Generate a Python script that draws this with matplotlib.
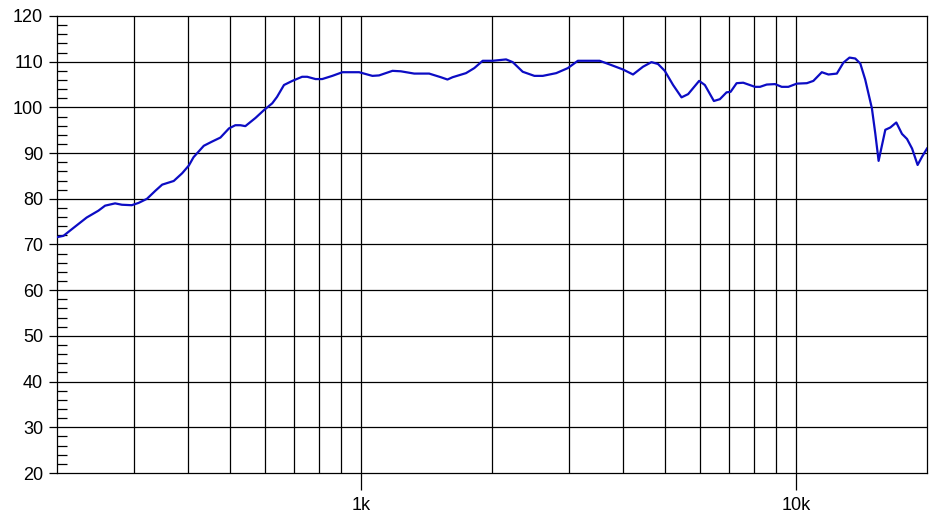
import numpy as np
import matplotlib
matplotlib.use('Agg')
import matplotlib.pyplot as plt
from matplotlib.ticker import FixedLocator, NullFormatter


# frequency response
freq = [200, 207, 216, 234, 249, 258, 272, 282, 297, 308, 322, 337, 349, 371, 388,
        402, 412, 435, 454, 475, 497, 514, 528, 542, 572, 598, 625, 641, 665, 695,
        732, 752, 786, 814, 859, 906, 990, 1034, 1062, 1100, 1181, 1234, 1325, 1434,
        1526, 1580, 1623, 1743, 1821, 1904, 2007, 2155, 2232, 2353, 2503, 2617, 2810,
        2988, 3151, 3535, 3728, 4000, 4219, 4448, 4651, 4816, 4991, 5216, 5454, 5648,
        5987, 6171, 6473, 6682, 6923, 7071, 7301, 7561, 8045, 8263, 8561, 8946, 9269,
        9600, 10040, 10590, 10960, 11460, 11870, 12410, 12850, 13270, 13680, 14050,
        14420, 14940, 15210, 15480, 16040, 16470, 17000, 17520, 17990, 18480, 19030,
        19480, 20000]
spl = [71.6, 71.9, 73.3, 75.9, 77.4, 78.5, 79.0, 78.7, 78.6, 79.1, 80.0, 81.8, 83.1, 83.9, 85.6,
       87.3, 89.1, 91.6, 92.5, 93.4, 95.4, 96.1, 96.1, 95.9, 97.7, 99.4, 100.9, 102.3, 104.9, 105.8,
       106.7, 106.7, 106.2, 106.2, 106.9, 107.7, 107.7, 107.2, 106.9, 107.0, 108.0, 107.9, 107.4, 107.4,
       106.6, 106.1, 106.6, 107.5, 108.6, 110.2, 110.2, 110.5, 109.9, 107.8, 106.9, 106.9, 107.5,
       108.6, 110.2, 110.2, 109.4, 108.3, 107.2, 108.9, 109.9, 109.5, 108.0, 104.9, 102.2, 102.9,
       105.8, 104.9, 101.4, 101.8, 103.3, 103.4, 105.3, 105.4, 104.5, 104.5, 105.0, 105.1, 104.5,
       104.5, 105.2, 105.3, 105.8, 107.7, 107.2, 107.4, 109.8, 110.9, 110.7, 109.6,
       106.1, 99.8, 94.3, 88.3, 95.1, 95.6, 96.7, 94.2, 93.1, 91.0, 87.4,
       89.2, 91.0]

grid_freqs = [300, 400, 500, 600, 700, 800, 900, 1000, 2000, 3000, 4000, 5000,
              6000, 7000, 8000, 9000, 10000]

fig = plt.figure(figsize=(9.48, 5.20), dpi=100)
ax = fig.add_axes([57/948, 1 - 473/520, 870/948, 457/520])

ax.set_xscale('log')
ax.set_xlim(200, 20000)
ax.set_ylim(20, 120)

for f in grid_freqs:
    ax.axvline(f, color='black', lw=0.9, zorder=1)
for v in range(30, 120, 10):
    ax.axhline(v, color='black', lw=0.9, zorder=1)

ax.plot(freq, spl, color='#0c0cc4', lw=1.6, zorder=3)

for s in ax.spines.values():
    s.set_color('black')
    s.set_linewidth(0.9)

# x ticks: only 1k and 10k, long outward ticks
ax.xaxis.set_major_locator(FixedLocator([1000, 10000]))
ax.set_xticklabels(['1k', '10k'])
ax.xaxis.set_minor_locator(FixedLocator([]))
ax.xaxis.set_minor_formatter(NullFormatter())
ax.tick_params(axis='x', which='major', direction='out', length=12, width=0.9,
               pad=5, labelsize=13)

# y ticks: major outward, minor inward every 2
ax.yaxis.set_major_locator(FixedLocator(list(range(20, 121, 10))))
ax.yaxis.set_minor_locator(FixedLocator([v for v in range(22, 120, 2) if v % 10]))
ax.tick_params(axis='y', which='major', direction='out', length=6, width=0.9,
               pad=4, labelsize=13)
ax.tick_params(axis='y', which='minor', direction='in', length=7.5, width=0.9)

for lab in ax.get_xticklabels() + ax.get_yticklabels():
    lab.set_fontfamily('Liberation Sans')

fig.savefig('out.png', dpi=100)
